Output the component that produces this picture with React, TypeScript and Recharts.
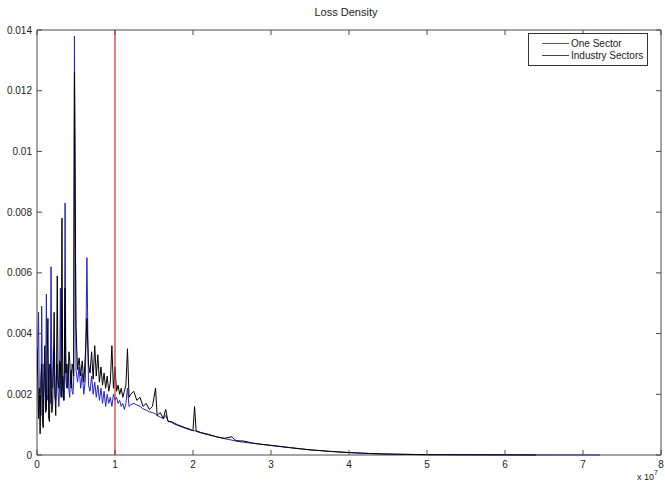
import React from "react";
import { LineChart, Line, XAxis, YAxis, ReferenceLine, ReferenceArea } from "recharts";

if (typeof document !== "undefined") document.body.style.margin = "0";

// loss in units of 1e7
const LOSS = [
  0, 0.01, 0.02, 0.03, 0.04, 0.05, 0.06, 0.07, 0.08, 0.09,
  0.1, 0.11, 0.12, 0.13, 0.14, 0.15, 0.16, 0.17, 0.18, 0.19,
  0.2, 0.21, 0.22, 0.23, 0.24, 0.25, 0.26, 0.27, 0.28, 0.29,
  0.3, 0.31, 0.32, 0.33, 0.34, 0.35, 0.36, 0.37, 0.38, 0.39,
  0.4, 0.41, 0.42, 0.43, 0.44, 0.45, 0.46, 0.47, 0.48, 0.5,
  0.52, 0.54, 0.56, 0.58, 0.6, 0.62, 0.64, 0.66, 0.68, 0.7,
  0.72, 0.74, 0.76, 0.78, 0.8, 0.82, 0.84, 0.86, 0.88, 0.9,
  0.92, 0.94, 0.96, 0.98, 1.0, 1.02, 1.04, 1.06, 1.08, 1.1,
  1.12, 1.14, 1.16, 1.18, 1.2, 1.24, 1.28, 1.32, 1.36, 1.4,
  1.44, 1.48, 1.52, 1.54, 1.58, 1.62, 1.65, 1.68, 1.72, 1.76,
  1.8, 1.85, 1.9, 1.95, 2.0, 2.02, 2.04, 2.1, 2.2, 2.3,
  2.4, 2.5, 2.55, 2.65, 2.75, 2.85, 3.0, 3.25, 3.5, 3.75,
  4.0, 4.25, 4.5, 5.0, 6.0, 6.4, 7.22,
];

const ONE_SECTOR = [
  0.003, 0.0036, 0.0047, 0.0017, 0.002, 0.0013, 0.0049, 0.0021, 0.0014, 0.003,
  0.0026, 0.0019, 0.0053, 0.002, 0.0018, 0.0028, 0.003, 0.0017, 0.0062, 0.0024,
  0.0022, 0.0035, 0.0034, 0.0019, 0.0018, 0.0027, 0.003, 0.0021, 0.0016, 0.0023,
  0.0055, 0.002, 0.0019, 0.0026, 0.0024, 0.0018, 0.0083, 0.0025, 0.0022, 0.0028,
  0.003, 0.0021, 0.0019, 0.0027, 0.0028, 0.0021, 0.002, 0.0024, 0.0138, 0.0028,
  0.0024, 0.0029, 0.0022, 0.0027, 0.002, 0.0025, 0.0065, 0.0023, 0.0021, 0.0026,
  0.002, 0.0024, 0.0019, 0.0023, 0.0018, 0.0022, 0.0017, 0.0021, 0.0016, 0.002,
  0.0017, 0.0019, 0.0016, 0.002, 0.0018, 0.0019, 0.0017, 0.0018, 0.0016, 0.0017,
  0.0015, 0.0017, 0.0022, 0.0016, 0.00165, 0.0017, 0.00165, 0.0016, 0.00152, 0.00148,
  0.00142, 0.0014, 0.00135, 0.0013, 0.00125, 0.0012, 0.0013, 0.00112, 0.00108, 0.00102,
  0.00098, 0.00093, 0.00088, 0.00084, 0.0008, 0.0008, 0.00078, 0.00073, 0.00066, 0.0006,
  0.00054, 0.00049, 0.00046, 0.00042, 0.00039, 0.00036, 0.00031, 0.00024, 0.00017, 0.00012,
  0.00008, 0.00005, 0.00003, 0.00001, 0.000005, 0.000003, 0,
];

const INDUSTRY = [
  0.0035, 0.0026, 0.0012, 0.0022, 0.0007, 0.0025, 0.003, 0.0011, 0.0009, 0.0024,
  0.0036, 0.0014, 0.0015, 0.0032, 0.0045, 0.0012, 0.0011, 0.003, 0.0028, 0.0014,
  0.0016, 0.0029, 0.0047, 0.0021, 0.0013, 0.0027, 0.0059, 0.0025, 0.0022, 0.0031,
  0.003, 0.0019, 0.0078, 0.0023, 0.0018, 0.0029, 0.0055, 0.0027, 0.003, 0.0022,
  0.0025, 0.0034, 0.0031, 0.0024, 0.0022, 0.003, 0.0029, 0.0026, 0.0126, 0.0042,
  0.0028, 0.0032, 0.0026, 0.0031, 0.0024, 0.0033, 0.0045, 0.003, 0.0027, 0.0034,
  0.0025, 0.0036, 0.0026, 0.0033, 0.0024, 0.0029, 0.0023, 0.0027, 0.0022, 0.0026,
  0.0021, 0.0024, 0.0036, 0.0022, 0.0029, 0.0021, 0.0023, 0.002, 0.0022, 0.0019,
  0.0021, 0.0023, 0.0035, 0.0019, 0.002, 0.0021, 0.0018, 0.0019, 0.0016, 0.0017,
  0.0015, 0.0016, 0.0022, 0.0013, 0.0014, 0.0012, 0.0015, 0.0011, 0.0011, 0.00105,
  0.001, 0.00095, 0.0009, 0.00086, 0.0008, 0.0016, 0.0008, 0.00074, 0.00068, 0.0006,
  0.00055, 0.0006, 0.00047, 0.00046, 0.0004, 0.00036, 0.00032, 0.00024, 0.00017, 0.00012,
  0.00008, 0.00005, 0.00003, 0.00001, 0.000004, 0, null,
];

const X_TICKS = [0, 1, 2, 3, 4, 5, 6, 7, 8];
const Y_TICKS = [0, 0.002, 0.004, 0.006, 0.008, 0.01, 0.012, 0.014];
const THRESHOLD = 1;

const data = LOSS.map((x, i) => ({ x, one: ONE_SECTOR[i], industry: INDUSTRY[i] }));

const W = 665;
const H = 488;
const MARGIN = { top: 30, right: 4, bottom: 0, left: 0 };
const PLOT_TOP = MARGIN.top;
const PLOT_RIGHT = W - MARGIN.right;

const FONT = "'Liberation Sans', Arial, Helvetica, sans-serif";
const AXIS = "#4a4a4a";
const TXT = "#222";

// matlab style: ticks point inward, mirrored on top / right
function BottomTick(props: any) {
  const { x, y, payload } = props;
  return (
    <g>
      <line x1={x} x2={x} y1={y} y2={y - 5} stroke={AXIS} />
      <line x1={x} x2={x} y1={PLOT_TOP} y2={PLOT_TOP + 5} stroke={AXIS} />
      <text x={x} y={y + 13} textAnchor="middle" fontSize={10} fill={TXT}>
        {payload.value}
      </text>
    </g>
  );
}

function LeftTick(props: any) {
  const { x, y, payload } = props;
  const v = payload.value as number;
  const label = v === 0 ? "0" : String(+v.toFixed(3));
  return (
    <g>
      <line x1={x} x2={x + 5} y1={y} y2={y} stroke={AXIS} />
      <line x1={PLOT_RIGHT - 5} x2={PLOT_RIGHT} y1={y} y2={y} stroke={AXIS} />
      <text x={x - 5} y={y + 3.5} textAnchor="end" fontSize={10} fill={TXT}>
        {label}
      </text>
    </g>
  );
}

export default function App() {
  return (
    <div style={{ position: "relative", width: W, height: H, background: "#fff", fontFamily: FONT }}>
      <div style={{ position: "absolute", left: 246, width: 200, top: 6, textAlign: "center", fontSize: 11, color: TXT }}>
        Loss Density
      </div>
      <LineChart width={W} height={H} data={data} margin={MARGIN} style={{ fontFamily: FONT }}>
        <XAxis
          dataKey="x"
          type="number"
          domain={[0, 8]}
          ticks={X_TICKS}
          allowDataOverflow
          height={33}
          axisLine={false}
          tickLine={false}
          tickSize={0}
          tickMargin={0}
          tick={<BottomTick />}
        />
        <YAxis
          type="number"
          domain={[0, 0.014]}
          ticks={Y_TICKS}
          width={37}
          axisLine={false}
          tickLine={false}
          tickSize={0}
          tickMargin={0}
          tick={<LeftTick />}
        />
        <Line type="linear" dataKey="one" stroke="#2222c8" strokeWidth={1} dot={false} isAnimationActive={false} />
        <Line type="linear" dataKey="industry" stroke="#000" strokeWidth={1} dot={false} isAnimationActive={false} />
        <ReferenceLine x={THRESHOLD} stroke="#d43a3a" strokeWidth={1.3} />
        <ReferenceArea x1={0} x2={8} y1={0} y2={0.014} fill="none" stroke={AXIS} strokeWidth={1} />
      </LineChart>
      <div
        style={{
          position: "absolute",
          left: 528,
          top: 33,
          width: 118,
          height: 31,
          border: "1px solid #333",
          background: "#fff",
          fontSize: 10,
          color: TXT,
          whiteSpace: "nowrap",
        }}
      >
        {[
          { name: "One Sector", color: "#5050d8" },
          { name: "Industry Sectors", color: "#444" },
        ].map((s, i) => (
          <div key={s.name} style={{ position: "absolute", left: 13, top: 3 + i * 12, display: "flex", alignItems: "center", height: 13 }}>
            <span style={{ display: "inline-block", width: 27, height: 1, background: s.color, marginRight: 2 }} />
            <span>{s.name}</span>
          </div>
        ))}
      </div>
      <div style={{ position: "absolute", left: 637, top: 472, fontSize: 9, color: TXT, whiteSpace: "nowrap" }}>
        x 10<span style={{ fontSize: 7, position: "relative", top: -5 }}>7</span>
      </div>
    </div>
  );
}
